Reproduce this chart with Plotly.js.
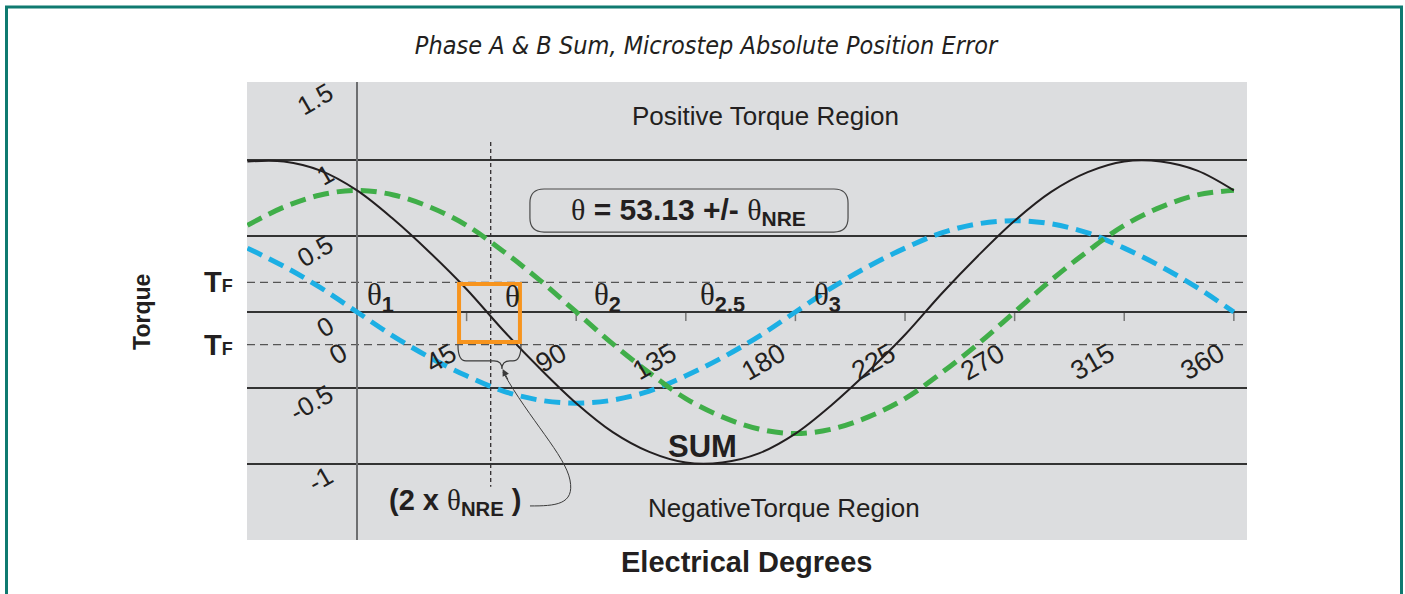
<!DOCTYPE html>
<html>
<head>
<meta charset="utf-8">
<script src="https://cdn.plot.ly/plotly-3.0.1.min.js"></script>
<style>
html,body{margin:0;padding:0;background:#fff;}
#chart{width:1405px;height:594px;}
</style>
</head>
<body>
<div id="chart"></div>
<script>
// ---- data ----
const degrees = [-45,-30,-15,0,15,30,45,60,75,90,105,120,135,150,165,180,195,210,225,240,255,270,285,300,315,330,345,360];
const phaseA = [0.57,0.69,0.77,0.80,0.77,0.69,0.57,0.40,0.21,0.00,-0.21,-0.40,-0.57,-0.69,-0.77,-0.80,-0.77,-0.69,-0.57,-0.40,-0.21,0.00,0.21,0.40,0.57,0.69,0.77,0.80];
const phaseB = [0.42,0.30,0.16,0.00,-0.16,-0.30,-0.42,-0.52,-0.58,-0.60,-0.58,-0.52,-0.42,-0.30,-0.16,0.00,0.16,0.30,0.42,0.52,0.58,0.60,0.58,0.52,0.42,0.30,0.16,0.00];
const sumAB  = [0.99,0.99,0.93,0.80,0.61,0.39,0.15,-0.12,-0.37,-0.60,-0.79,-0.92,-0.99,-0.99,-0.93,-0.80,-0.61,-0.39,-0.15,0.12,0.37,0.60,0.79,0.92,0.99,0.99,0.93,0.80];

const xTickVals = [0,45,90,135,180,225,270,315,360];
const xTickText = ['0','45','90','135','180','225','270','315','360'];
const yTickVals = [1.5,1,0.5,0,-0.5,-1];
const yTickText = ['1.5','1','0.5','0','-0.5','-1'];
const gridVals  = [1,0.5,0,-0.5,-1];

const tfUpper = 0.195;
const tfLower = -0.215;
const thetaNominal = 54.9;

const thetaNames = ['1','','2','2.5','3'];
const thetaPos   = [9.8,64.0,103.0,150.2,193.3];

// ---- styling ----
const BG = '#dcdddf';
const INK = '#231f20';
const SANS = 'Liberation Sans, Arial, Helvetica, sans-serif';
const SERIF = 'Liberation Serif';
const th = '<span style="font-family:' + SERIF + '">θ</span>';

const traces = [
  {x: degrees, y: phaseB, mode: 'lines', line: {color: '#1cafe4', width: 5, dash: '16px,8px', shape: 'spline', smoothing: 1}, hoverinfo: 'skip'},
  {x: degrees, y: phaseA, mode: 'lines', line: {color: '#40ae49', width: 5, dash: '16px,8px', shape: 'spline', smoothing: 1}, hoverinfo: 'skip'},
  {x: degrees, y: sumAB,  mode: 'lines', line: {color: INK, width: 2, shape: 'spline', smoothing: 1}, hoverinfo: 'skip'}
];

const shapes = [];
// TF dashed lines
[tfUpper, tfLower].forEach(v => shapes.push({type: 'line', xref: 'paper', x0: 0, x1: 1, yref: 'y', y0: v, y1: v, layer: 'below', line: {color: '#555555', width: 1.2, dash: '8px,5px'}}));
// tick marks on zero line
xTickVals.forEach(v => shapes.push({type: 'line', xref: 'x', x0: v, x1: v, yref: 'y', y0: 0, y1: -0.06, layer: 'below', line: {color: '#777', width: 1.5}}));
// dotted nominal-angle line
shapes.push({type: 'line', xref: 'x', x0: thetaNominal, x1: thetaNominal, yref: 'y', y0: 1.118, y1: -1.15, layer: 'below', line: {color: INK, width: 1.2, dash: '4px,3px'}});
// rounded box
shapes.push({type: 'path', xref: 'x', yref: 'y', layer: 'below', line: {color: '#4a4a4a', width: 1.2}, fillcolor: BG,
  path: 'M 76.8,0.809 L 195.8,0.809 Q 201.6,0.809 201.6,0.717 L 201.6,0.618 Q 201.6,0.526 195.8,0.526 L 76.8,0.526 Q 71.0,0.526 71.0,0.618 L 71.0,0.717 Q 71.0,0.809 76.8,0.809 Z'});
// orange window
shapes.push({type: 'rect', xref: 'x', yref: 'y', x0: 41.9, x1: 66.9, y0: -0.197, y1: 0.184, line: {color: '#f7941e', width: 4}, layer: 'above'});
// brace
shapes.push({type: 'path', xref: 'x', yref: 'y', layer: 'above', line: {color: '#3a3a3a', width: 1.2},
  path: 'M 41.46,-0.217 Q 41.46,-0.322 44.75,-0.322 L 56.24,-0.322 Q 59.52,-0.322 59.52,-0.375 Q 59.52,-0.322 62.81,-0.322 L 64.04,-0.322 Q 67.32,-0.322 67.32,-0.217'});
// curved leader
shapes.push({type: 'path', xref: 'x', yref: 'y', layer: 'above', line: {color: '#3a3a3a', width: 1},
  path: 'M 59.93,-0.395 C 71.02,-0.711 85.39,-0.941 87.44,-1.105 C 89.49,-1.270 81.28,-1.276 71.02,-1.276'});
// frame
shapes.push({type: 'rect', xref: 'paper', yref: 'paper', x0: -0.2405, x1: 1.1545, y0: -0.2, y1: 1.1638, line: {color: '#0f7a70', width: 3}, layer: 'above'});

const annotations = [];
// x tick labels
xTickVals.forEach((v, i) => annotations.push({x: v, y: 0, xref: 'x', yref: 'y', text: xTickText[i], showarrow: false, textangle: -30,
  xanchor: 'right', yanchor: 'top', xshift: -2, yshift: -23, font: {family: SANS, size: 27, color: INK}}));
// y tick labels
yTickVals.forEach((v, i) => annotations.push({x: 0, y: v, xref: 'x', yref: 'y', text: yTickText[i], showarrow: false, textangle: -30,
  xanchor: 'right', yanchor: 'middle', xshift: -16, yshift: -15, font: {family: SANS, size: 26, color: INK}}));
// theta labels
thetaPos.forEach((v, i) => annotations.push({x: v, y: 0.099, xref: 'x', yref: 'y', showarrow: false, xanchor: 'center', yanchor: 'middle',
  text: '<span style="font-family:' + SERIF + '">θ</span>' + (thetaNames[i] ? '<b><sub>' + thetaNames[i] + '</sub></b>' : ''),
  font: {family: SANS, size: 31, color: INK}}));
// TF labels
[tfUpper, tfLower].forEach(v => annotations.push({x: -0.029, y: v, xref: 'paper', yref: 'y', showarrow: false, xanchor: 'center', yanchor: 'middle',
  text: '<b>T<span style="font-size:18px">F</span></b>', font: {family: SANS, size: 29, color: INK}}));
// region labels
annotations.push({x: 167.9, y: 1.289, xref: 'x', yref: 'y', showarrow: false, xanchor: 'center', yanchor: 'middle', text: 'Positive Torque Region', font: {family: SANS, size: 26, color: INK}});
annotations.push({x: 175.3, y: -1.289, xref: 'x', yref: 'y', showarrow: false, xanchor: 'center', yanchor: 'middle', text: 'NegativeTorque Region', font: {family: SANS, size: 26, color: INK}});
// SUM
annotations.push({x: 142.0, y: -0.882, xref: 'x', yref: 'y', showarrow: false, xanchor: 'center', yanchor: 'middle', text: '<b>SUM</b>', font: {family: SANS, size: 31, color: INK}});
// box text
annotations.push({x: 136.3, y: 0.664, xref: 'x', yref: 'y', showarrow: false, xanchor: 'center', yanchor: 'middle',
  text: th + '<b> = 53.13 +/- </b>' + th + '<b><sub>NRE</sub></b>', font: {family: SANS, size: 30, color: INK}});
// 2 x theta NRE
annotations.push({x: 40.2, y: -1.25, xref: 'x', yref: 'y', showarrow: false, xanchor: 'center', yanchor: 'middle',
  text: '<b>(2 x </b>' + th + '<b><sub>NRE</sub> )</b>', font: {family: SANS, size: 29, color: INK}});
// arrow head
annotations.push({x: 59.8, y: -0.375, xref: 'x', yref: 'y', ax: 6, ay: 12, axref: 'pixel', ayref: 'pixel', text: '', showarrow: true,
  arrowhead: 2, arrowsize: 1.4, arrowwidth: 1, arrowcolor: '#3a3a3a'});
// axis titles
annotations.push({x: -0.105, y: 0.498, xref: 'paper', yref: 'paper', showarrow: false, xanchor: 'center', yanchor: 'middle', textangle: -90, text: '<b>Torque</b>', font: {family: SANS, size: 23, color: INK}});
annotations.push({x: 0.499, y: -0.048, xref: 'paper', yref: 'paper', showarrow: false, xanchor: 'center', yanchor: 'middle', text: '<b>Electrical Degrees</b>', font: {family: SANS, size: 29, color: INK}});

const layout = {
  width: 1405, height: 594,
  margin: {l: 247, r: 158, t: 82, b: 54},
  paper_bgcolor: '#ffffff', plot_bgcolor: BG,
  showlegend: false,
  title: {text: 'Phase A & B Sum, Microstep Absolute Position Error', x: 0.5025, xref: 'container', y: 0.924, yanchor: 'middle',
    font: {family: 'Liberation Sans Narrow, DejaVu Sans Condensed, sans-serif', size: 25, style: 'italic', color: INK}},
  xaxis: {range: [-45.16, 365.4], showticklabels: false, ticks: '', showgrid: false, zeroline: true, zerolinecolor: '#6d6e70', zerolinewidth: 1.5, showline: false, fixedrange: true},
  yaxis: {range: [-1.5, 1.513], tickvals: gridVals, showticklabels: false, ticks: '', showgrid: true, gridcolor: '#333333', gridwidth: 1.3, zeroline: false, showline: false, fixedrange: true},
  shapes: shapes,
  annotations: annotations
};

Plotly.newPlot('chart', traces, layout, {displayModeBar: false, staticPlot: true});
</script>
</body>
</html>
